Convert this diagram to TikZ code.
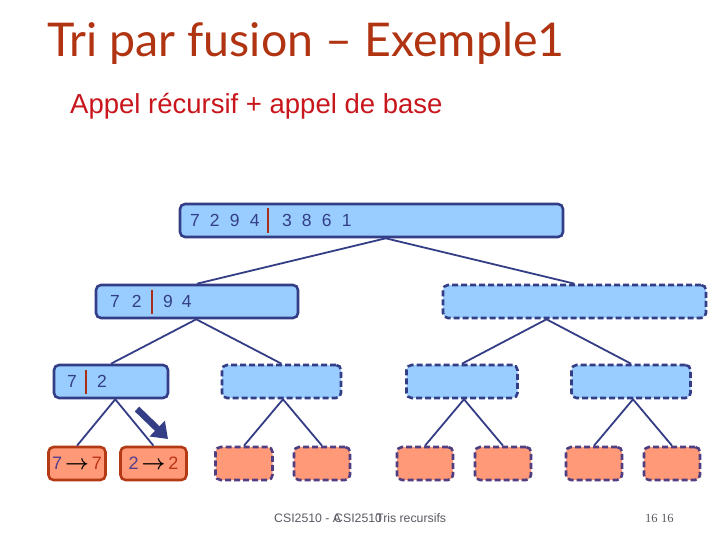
\documentclass[tikz,border=0pt]{standalone}
\usepackage{fontspec}
\usepackage{bm}
\setmainfont{Liberation Sans}
\newfontfamily\titlefont{Lato}
\newfontfamily\pagefont{Liberation Serif}
\usetikzlibrary{arrows.meta,calc}
\definecolor{navy}{RGB}{52,62,134}
\definecolor{fillblue}{RGB}{153,204,255}
\definecolor{fillorange}{RGB}{255,153,119}
\definecolor{leafborder}{RGB}{180,58,22}
\definecolor{dashborder}{RGB}{80,62,128}
\definecolor{sepc}{RGB}{168,48,24}
\definecolor{titlec}{RGB}{176,52,18}
\definecolor{subc}{RGB}{200,22,28}
\definecolor{footc}{RGB}{90,90,100}
\definecolor{digitc}{RGB}{52,62,134}
\definecolor{leftdig}{RGB}{82,62,140}
\definecolor{rightdig}{RGB}{190,50,20}
\newcommand{\sepbar}{\textcolor{sepc}{\rule[-6pt]{2pt}{24pt}}}
\newcommand{\dg}[2]{\makebox[#1pt][l]{#2}}
\begin{document}
\begin{tikzpicture}[x=1pt,y=-1pt,
  bluebox/.style={draw=navy, line width=2.6pt, fill=fillblue, rounded corners=5pt,
    inner ysep=0pt, minimum height=33pt, font=\fontsize{17.5}{17.5}\selectfont, text=digitc, align=left},
  bluedash/.style={bluebox, draw=navy, dash pattern=on 6pt off 3pt},
  leafbox/.style={draw=leafborder, line width=2.6pt, fill=fillorange, rounded corners=5pt,
    inner sep=0pt, minimum height=33pt, font=\fontsize{18}{18}\selectfont},
  leafdash/.style={leafbox, draw=dashborder, dash pattern=on 6pt off 3pt},
  conn/.style={draw=navy, line width=1.8pt},
  bigarrow/.style={draw=navy, line width=6.5pt, -{Triangle[length=15pt,width=21pt]}},
  foot/.style={font=\fontsize{12.3}{12.3}\selectfont, text=footc, inner sep=0pt, anchor=base west}
]
\useasboundingbox[fill=white] (0,0) rectangle (720,540);

% titles
\node[anchor=base west, inner sep=0pt, text=titlec, font=\titlefont\fontsize{46.5}{46.5}\selectfont] (title) at (47,57) {Tri par fusion – Exemple1};
\node[anchor=base west, inner sep=0pt, text=subc, font=\fontsize{27.5}{27.5}\selectfont] (sub) at (70,114) {Appel récursif + appel de base};

% level 0
\node[bluebox, minimum width=383pt, text width=363pt, inner xsep=10pt] (r) at (371.5,220.5)
  {\dg{20}{7}\dg{20}{2}\dg{20}{9}\dg{17}{4}\sepbar\hspace{13pt}\dg{20}{3}\dg{20}{8}\dg{20}{6}1};

% level 1
\node[bluebox, minimum width=202pt, text width=174pt, inner xsep=14pt] (l1a) at (197,301.5)
  {\dg{22}{7}\dg{19}{2}\sepbar\hspace{10pt}\dg{19}{9}4};
\node[bluedash, minimum width=263pt] (l1b) at (574.5,301.5) {};

% level 2
\node[bluebox, minimum width=114pt, text width=88pt, inner xsep=13pt] (l2a) at (111,381.5)
  {\dg{18}{7}\sepbar\hspace{10pt}2};
\node[bluedash, minimum width=119pt] (l2b) at (281.5,381.5) {};
\node[bluedash, minimum width=111pt] (l2c) at (462,381.5) {};
\node[bluedash, minimum width=119pt] (l2d) at (631,381.5) {};

% level 3
\node[leafbox, minimum width=57pt] (f1) at (77,463.5)
  {\textcolor{leftdig}{7}\,{\fontsize{20}{20}\selectfont$\bm{\rightarrow}$}\,\textcolor{rightdig}{7}};
\node[leafbox, minimum width=66pt] (f2) at (153.5,463.5)
  {\textcolor{leftdig}{2}\,{\fontsize{20}{20}\selectfont$\bm{\rightarrow}$}\,\textcolor{rightdig}{2}};
\node[leafdash, minimum width=57pt] (f3) at (244,463.5) {};
\node[leafdash, minimum width=56pt] (f4) at (322,463.5) {};
\node[leafdash, minimum width=56pt] (f5) at (425,463.5) {};
\node[leafdash, minimum width=56pt] (f6) at (503,463.5) {};
\node[leafdash, minimum width=56pt] (f7) at (594,463.5) {};
\node[leafdash, minimum width=56pt] (f8) at (672,463.5) {};

% connectors
\foreach \p/\a/\b in {r/l1a/l1b, l1a/l2a/l2b, l1b/l2c/l2d, l2a/f1/f2, l2b/f3/f4, l2c/f5/f6, l2d/f7/f8}{
  \coordinate (apex-\p) at ($(\a.north)!0.5!(\b.north)$);
  \coordinate (top-\p) at (apex-\p |- \p.south);
  \draw[conn] (\a.north) -- (top-\p) -- (\b.north);
}

% big arrow
\coordinate (ar1) at (137,409);
\coordinate (ar2) at (168,439);
\draw[bigarrow] (ar1) -- (ar2);

% footer
\node[foot] (fa) at (274,522) {CSI2510 - A};
\node[foot] (fb) at (334,522) {CSI2510};
\node[foot] (fc) at (376,522) {Tris recursifs};
\node[foot, font=\pagefont\fontsize{12.5}{12.5}\selectfont] (p1) at (645,522) {16};
\node[foot, font=\pagefont\fontsize{12.5}{12.5}\selectfont] (p2) at (661,522) {16};
\end{tikzpicture}
\end{document}
